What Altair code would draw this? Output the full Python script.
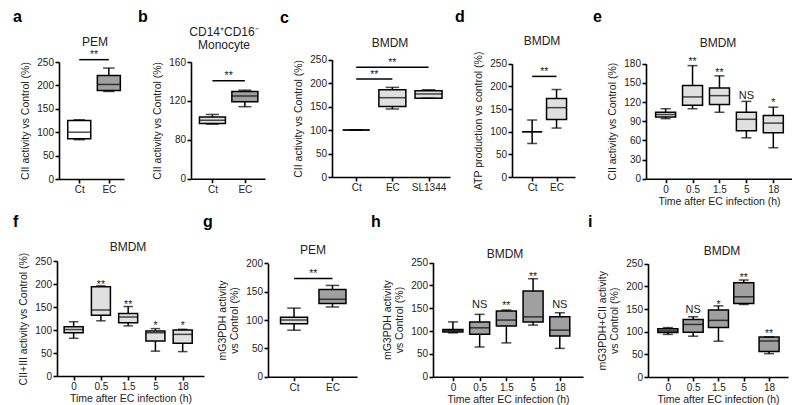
import json
import altair as alt
import pandas as pd

FONT = "Liberation Sans"
SHADES = ["white", "light", "dark"]
SHADE_COLORS = ["#ffffff", "#e0e0e0", "#a0a0a0"]

TIME = ["0", "0.5", "1.5", "5", "18"]
Y_CII = "CII activity vs Control (%)"

# ---------------- data ----------------
# a  PEM, CII activity
a_cats = ["Ct", "EC"]
a_lo = [84, 187]
a_q1 = [86, 189]
a_med = [100, 202]
a_q3 = [125, 221]
a_hi = [126.5, 237]
a_shade = ["white", "dark"]
a_sig_from, a_sig_to, a_sig_y, a_sig_lab = [0], [1], [255], ["**"]

# b  CD14+CD16- monocyte
b_cats = ["Ct", "EC"]
b_lo = [96, 114]
b_q1 = [96.6, 119]
b_med = [100, 125]
b_q3 = [103.5, 129.6]
b_hi = [106, 131]
b_shade = ["light", "dark"]
b_sig_from, b_sig_to, b_sig_y, b_sig_lab = [0], [1], [140.6], ["**"]

# c  BMDM, CII activity
c_cats = ["Ct", "EC", "SL1344"]
c_lo = [100, 145, 168]
c_q1 = [100, 150, 168]
c_med = [100, 169, 177]
c_q3 = [100, 186, 184]
c_hi = [100, 191, 186]
c_shade = ["light", "light", "light"]
c_sig_from, c_sig_to, c_sig_y, c_sig_lab = [0, 0], [2, 1], [234, 208.6], ["**", "**"]

# d  BMDM, ATP production
d_cats = ["Ct", "EC"]
d_lo = [74, 108]
d_q1 = [100, 127]
d_med = [100, 153]
d_q3 = [100, 173]
d_hi = [126, 193]
d_shade = ["light", "light"]
d_sig_from, d_sig_to, d_sig_y, d_sig_lab = [0], [1], [222], ["**"]

# e  BMDM time course, CII activity
e_lo = [94, 109.5, 104, 64, 48.5]
e_q1 = [96.5, 115, 116, 75, 72]
e_med = [100.5, 128, 130, 93, 87]
e_q3 = [104, 146, 142, 104, 99]
e_hi = [109.5, 177, 161, 121, 112]
e_shade = ["light"] * 5
e_ann_i, e_ann_y, e_ann_lab = [1, 2, 3, 4], [187, 170, 130, 122], ["**", "**", "NS", "*"]

# f  BMDM time course, CII+III activity
f_lo = [82, 120, 109, 54, 53]
f_q1 = [94, 132, 116, 76, 71]
f_med = [101, 143.5, 128, 94, 90.5]
f_q3 = [107, 194, 136, 98, 100]
f_hi = [118, 196, 151, 103, 101.5]
f_shade = ["light"] * 5
f_ann_i, f_ann_y, f_ann_lab = [1, 2, 3, 4], [204, 159, 114, 114], ["**", "**", "*", "*"]

# g  PEM, mG3PDH activity
g_cats = ["Ct", "EC"]
g_lo = [82, 123]
g_q1 = [93.5, 129]
g_med = [100, 136.5]
g_q3 = [105, 154]
g_hi = [121, 161]
g_shade = ["light", "dark"]
g_sig_from, g_sig_to, g_sig_y, g_sig_lab = [0], [1], [173], ["**"]

# h  BMDM time course, mG3PDH activity
h_lo = [96, 65, 74, 113, 62]
h_q1 = [98, 93, 111, 120, 89]
h_med = [101, 107, 124, 131, 102]
h_q3 = [103.5, 120, 144, 187.5, 131]
h_hi = [120, 136.5, 146, 214.5, 140]
h_shade = ["dark"] * 5
h_ann_i, h_ann_y, h_ann_lab = [1, 2, 3, 4], [157, 160.6, 224, 157], ["NS", "**", "**", "NS"]

# i  BMDM time course, mG3PDH+CII activity
i_lo = [94, 90, 79, 160, 51.5]
i_q1 = [98, 99, 109, 162, 56]
i_med = [101.5, 116, 125, 177, 79.5]
i_q3 = [106.5, 127, 148, 208, 88]
i_hi = [109, 133, 157, 214, 88.5]
i_shade = ["dark"] * 5
i_ann_i, i_ann_y, i_ann_lab = [1, 2, 3, 4], [147, 164, 225, 101.5], ["NS", "*", "**", "**"]


def sig(fr, to, y, lab):
    return pd.DataFrame({"x1": fr, "x2": to, "xm": [(a + b) / 2 for a, b in zip(fr, to)],
                         "y": y, "lab": lab})


def ann(idx, y, lab):
    return pd.DataFrame({"i": idx, "y": y, "lab": lab})


def panel(P):
    cx, cy, W, H = P["cell"]
    cats = P["cats"]
    n = len(cats)
    ax = P["axis_x"] - cx
    xe = P["x_end"] - cx
    t0 = P["ticks"][0] - cx
    t1 = P["ticks"][1] - cx
    unit = (t1 - t0) / (n - 1)
    xdom = [-(t0 - ax) / unit, (n - 1) + (xe - t1) / unit]
    yr = [v - cy for v in P["ypix"]]
    ybot = yr[0]
    bw = P["bw"]
    cw = bw * 0.5

    df = pd.DataFrame({"i": list(range(n)), "lo": P["lo"], "q1": P["q1"], "med": P["med"],
                       "q3": P["q3"], "hi": P["hi"], "shade": P["shade"]})

    xscale = alt.Scale(domain=xdom, range=[ax, xe], nice=False, zero=False)
    yscale = alt.Scale(domain=P["ydom"], range=yr, nice=False, zero=False)
    xkw = dict(values=list(range(n)), labelExpr=json.dumps(cats) + "[round(datum.value)]",
               offset=-(H - ybot), labelFlush=False, labelOverlap=False, titlePadding=2,
               title=P.get("xtitle"))
    ykw = dict(values=P["yticks"], offset=-ax, labelFlush=False, labelOverlap=False,
               titlePadding=6, title=P["ytitle"])

    def X(f):
        return alt.X(f, scale=xscale, axis=alt.Axis(**xkw))

    def Y(f):
        return alt.Y(f, scale=yscale, axis=alt.Axis(**ykw))

    base = alt.Chart(df)
    layers = [
        base.mark_rule(color="black", strokeWidth=1.5).encode(
            x=X("i:Q"), y=Y("lo:Q"), y2="hi:Q"),
        base.mark_bar(size=bw, stroke="black", strokeWidth=1.5).encode(
            x=X("i:Q"), y=Y("q1:Q"), y2="q3:Q",
            fill=alt.Fill("shade:N", scale=alt.Scale(domain=SHADES, range=SHADE_COLORS), legend=None)),
        base.mark_tick(orient="horizontal", size=bw, thickness=1.5, color="black").encode(
            x=X("i:Q"), y=Y("med:Q")),
        base.mark_tick(orient="horizontal", size=cw, thickness=1.5, color="black").encode(
            x=X("i:Q"), y=Y("hi:Q")),
        base.mark_tick(orient="horizontal", size=cw, thickness=1.5, color="black").encode(
            x=X("i:Q"), y=Y("lo:Q")),
    ]
    if "sig" in P:
        s = alt.Chart(P["sig"])
        layers.append(s.mark_rule(color="black", strokeWidth=1.5).encode(
            x=X("x1:Q"), x2="x2:Q", y=Y("y:Q")))
        layers.append(s.mark_text(font=FONT, fontSize=10.5, baseline="alphabetic", dy=-1.5,
                                  color="#222").encode(x=X("xm:Q"), y=Y("y:Q"), text="lab:N"))
    if "ann" in P:
        adf = P["ann"]
        stars = adf[adf["lab"] != "NS"]
        ns = adf[adf["lab"] == "NS"]
        if len(stars):
            layers.append(alt.Chart(stars).mark_text(font=FONT, fontSize=10.5, baseline="alphabetic",
                                                     dy=5.5, color="#222").encode(
                x=X("i:Q"), y=Y("y:Q"), text="lab:N"))
        if len(ns):
            layers.append(alt.Chart(ns).mark_text(font=FONT, fontSize=11, baseline="middle",
                                                  color="#222").encode(
                x=X("i:Q"), y=Y("y:Q"), text="lab:N"))
    # panel letter
    lx, ly = P["letter_pos"]
    layers.append(alt.Chart(pd.DataFrame({"t": [P["letter"]]})).mark_text(
        font=FONT, fontSize=16, fontWeight="bold", align="left", baseline="alphabetic",
        color="black").encode(x=alt.value(lx - cx), y=alt.value(ly - cy), text="t:N"))
    # panel title (one text per line)
    for txt, (tx, ty) in zip(P["title"], P["title_pos"]):
        layers.append(alt.Chart(pd.DataFrame({"t": [txt]})).mark_text(
            font=FONT, fontSize=12, align="center", baseline="alphabetic", color="#222").encode(
            x=alt.value(tx - cx), y=alt.value(ty - cy), text="t:N"))
    return alt.layer(*layers).properties(width=W, height=H)


R1 = (8, 204)
R2 = (214, 184)
Y250 = [0, 50, 100, 150, 200, 250]

pa = panel(dict(cell=(8, R1[0], 152, R1[1]), cats=a_cats, lo=a_lo, q1=a_q1, med=a_med, q3=a_q3, hi=a_hi,
                shade=a_shade, axis_x=59, x_end=124, ticks=(77, 112), ydom=[0, 250], ypix=[177, 60],
                yticks=Y250, ytitle=Y_CII, bw=23, letter="a", letter_pos=(13, 19.5),
                title=["PEM"], title_pos=[(95, 44)], sig=sig(a_sig_from, a_sig_to, a_sig_y, a_sig_lab)))
pb = panel(dict(cell=(160, R1[0], 160, R1[1]), cats=b_cats, lo=b_lo, q1=b_q1, med=b_med, q3=b_q3, hi=b_hi,
                shade=b_shade, axis_x=191, x_end=265, ticks=(210, 247.5), ydom=[0, 80, 160],
                ypix=[176.7, 137.7, 60], yticks=[0, 80, 120, 160], ytitle=Y_CII, bw=26,
                letter="b", letter_pos=(138, 19.5),
                title=["CD14⁺CD16⁻", "Monocyte"], title_pos=[(224, 34), (224, 46.5)],
                sig=sig(b_sig_from, b_sig_to, b_sig_y, b_sig_lab)))
pc = panel(dict(cell=(320, R1[0], 150, R1[1]), cats=c_cats, lo=c_lo, q1=c_q1, med=c_med, q3=c_q3, hi=c_hi,
                shade=c_shade, axis_x=332, x_end=450, ticks=(353, 432), ydom=[0, 250], ypix=[175, 57.7],
                yticks=Y250, ytitle=Y_CII, bw=27, letter="c", letter_pos=(280, 20.5),
                title=["BMDM"], title_pos=[(390, 45)], sig=sig(c_sig_from, c_sig_to, c_sig_y, c_sig_lab)))
pd_ = panel(dict(cell=(470, R1[0], 130, R1[1]), cats=d_cats, lo=d_lo, q1=d_q1, med=d_med, q3=d_q3, hi=d_hi,
                 shade=d_shade, axis_x=512, x_end=575, ticks=(530, 559), ydom=[0, 250], ypix=[175, 61.7],
                 yticks=Y250, ytitle="ATP production vs control (%)", bw=20, letter="d",
                 letter_pos=(455, 19.5), title=["BMDM"], title_pos=[(542, 43)],
                 sig=sig(d_sig_from, d_sig_to, d_sig_y, d_sig_lab)))
pe = panel(dict(cell=(600, R1[0], 192, R1[1]), cats=TIME, lo=e_lo, q1=e_q1, med=e_med, q3=e_q3, hi=e_hi,
                shade=e_shade, axis_x=646, x_end=792, ticks=(661.7, 777.3), ydom=[0, 180],
                ypix=[176.7, 61.7], yticks=[0, 30, 60, 90, 120, 150, 180], ytitle=Y_CII,
                xtitle="Time after EC infection (h)", bw=20, letter="e", letter_pos=(593, 19.5),
                title=["BMDM"], title_pos=[(718, 45)], ann=ann(e_ann_i, e_ann_y, e_ann_lab)))

pf = panel(dict(cell=(8, R2[0], 192, R2[1]), cats=TIME, lo=f_lo, q1=f_q1, med=f_med, q3=f_q3, hi=f_hi,
                shade=f_shade, axis_x=57, x_end=204, ticks=(69.5, 186.5), ydom=[0, 250], ypix=[370, 255],
                yticks=Y250, ytitle="CII+III activity vs Control (%)",
                xtitle="Time after EC infection (h)", bw=19, letter="f", letter_pos=(13, 221),
                title=["BMDM"], title_pos=[(128, 245)], ann=ann(f_ann_i, f_ann_y, f_ann_lab)))
pg = panel(dict(cell=(200, R2[0], 170, R2[1]), cats=g_cats, lo=g_lo, q1=g_q1, med=g_med, q3=g_q3, hi=g_hi,
                shade=g_shade, axis_x=268, x_end=357, ticks=(291.7, 335), ydom=[0, 200],
                ypix=[370.7, 257.3], yticks=[0, 50, 100, 150, 200],
                ytitle=["mG3PDH activity", "vs Control (%)"], bw=27, letter="g", letter_pos=(203, 221),
                title=["PEM"], title_pos=[(313, 248)], sig=sig(g_sig_from, g_sig_to, g_sig_y, g_sig_lab)))
ph = panel(dict(cell=(370, R2[0], 210, R2[1]), cats=TIME, lo=h_lo, q1=h_q1, med=h_med, q3=h_q3, hi=h_hi,
                shade=h_shade, axis_x=433, x_end=583, ticks=(449, 563.5), ydom=[0, 250],
                ypix=[370.7, 256.5], yticks=Y250, ytitle=["mG3PDH activity", "vs Control (%)"],
                xtitle="Time after EC infection (h)", bw=20, letter="h", letter_pos=(371, 221),
                title=["BMDM"], title_pos=[(505, 252)], ann=ann(h_ann_i, h_ann_y, h_ann_lab)))
pi = panel(dict(cell=(580, R2[0], 212, R2[1]), cats=TIME, lo=i_lo, q1=i_q1, med=i_med, q3=i_q3, hi=i_hi,
                shade=i_shade, axis_x=648, x_end=788, ticks=(664, 773), ydom=[0, 250],
                ypix=[371, 257.7], yticks=Y250, ytitle=["mG3PDH+CII activity", "vs Control (%)"],
                xtitle="Time after EC infection (h)", bw=20, letter="i", letter_pos=(588, 221),
                title=["BMDM"], title_pos=[(722, 249)], ann=ann(i_ann_i, i_ann_y, i_ann_lab)))

row1 = alt.hconcat(pa, pb, pc, pd_, pe, spacing=0, bounds="flush")
row2 = alt.hconcat(pf, pg, ph, pi, spacing=0, bounds="flush")

chart = alt.vconcat(row1, row2, spacing=0).properties(
    padding={"left": 0, "top": 0, "right": 0, "bottom": 0}
).configure_view(stroke=None).configure_axis(
    domainColor="black", domainWidth=1.6, tickColor="black", tickWidth=1.6, tickSize=4,
    labelFont=FONT, labelFontSize=10, labelColor="#222", labelPadding=1.5, labelOverlap=False,
    titleFont=FONT, titleFontSize=10.5, titleFontWeight="normal", titleColor="#222",
    grid=False,
)

chart.save("out.html", embed_options={"renderer": "svg", "actions": False})
